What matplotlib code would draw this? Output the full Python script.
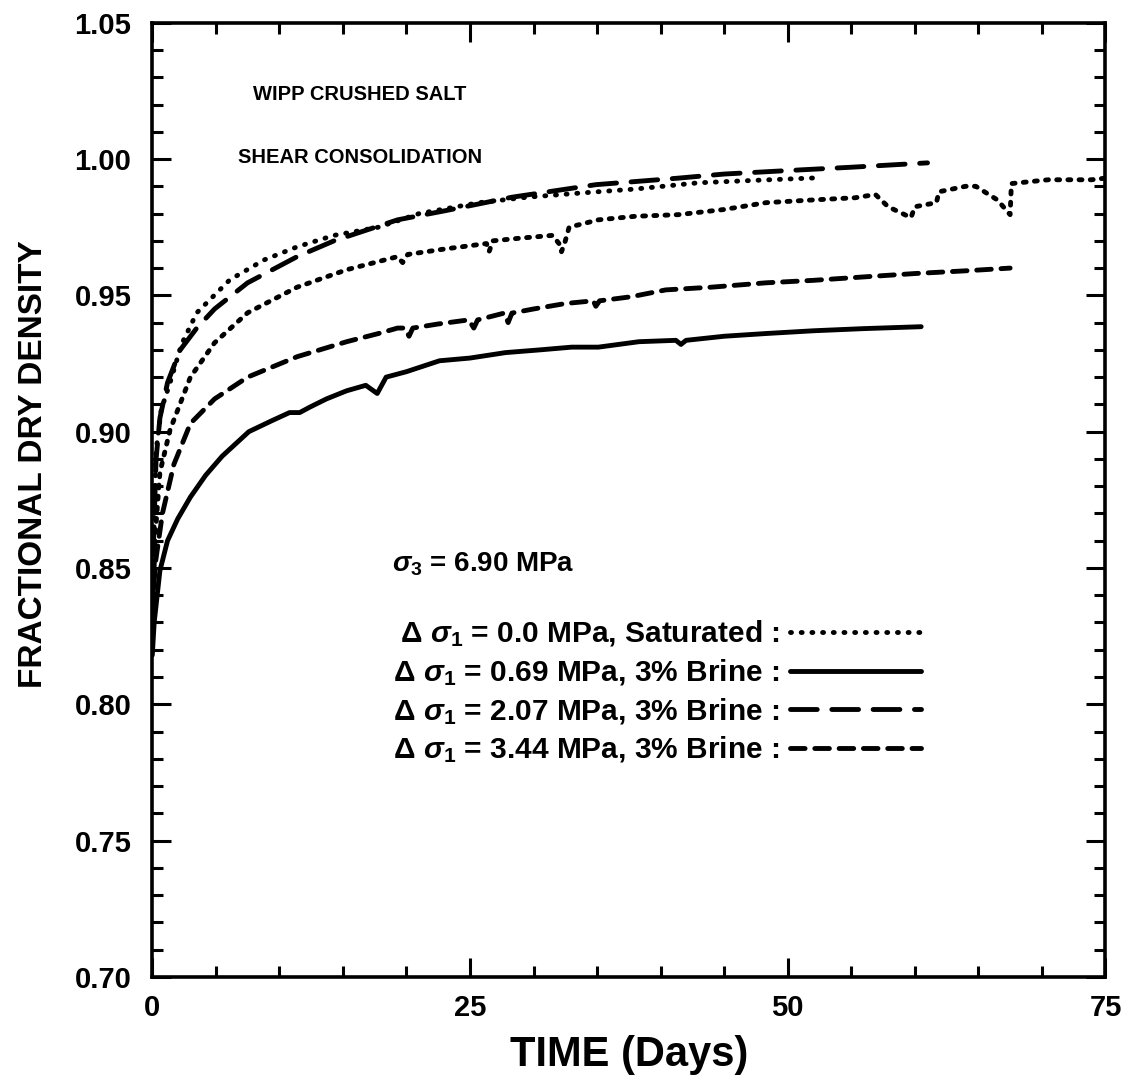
import numpy as np
import matplotlib
matplotlib.use('Agg')
import matplotlib.pyplot as plt
from matplotlib.ticker import MultipleLocator, FormatStrFormatter

plt.rcParams['font.family'] = ['Liberation Sans', 'DejaVu Sans']
plt.rcParams['font.weight'] = 'bold'
plt.rcParams['mathtext.fontset'] = 'custom'
plt.rcParams['mathtext.rm'] = 'Liberation Sans:bold'
plt.rcParams['mathtext.bf'] = 'Liberation Sans:bold'
plt.rcParams['mathtext.it'] = 'Liberation Sans:bold:italic'

# dsigma1 = 0.0 MPa, saturated
sat_days = [0, 0.1, 0.3, 0.7, 1.4, 2.3, 3.5, 6.1, 8.8, 11.4, 14.3, 17.8, 21.0,
            25.7, 29.5, 33.6, 38.0, 43.0, 48.0, 52.3]
sat_dens = [0.825, 0.860, 0.893, 0.908, 0.918, 0.932, 0.9436, 0.9557, 0.963,
            0.9678, 0.972, 0.975, 0.980, 0.984, 0.986, 0.9875, 0.989, 0.9913,
            0.9923, 0.9931]

# second saturated run (no legend entry)
sat2_days = [0, 0.2, 0.6, 1.4, 3.0, 4.9, 7.5, 11.4, 15.3, 19.3, 19.7, 20.1, 23.0,
             26.3, 26.5, 26.8, 29.0, 31.5, 32.0, 32.2, 32.5, 32.8, 35.1, 38.0,
             41.4, 45.0, 48.3, 52.0, 55.3, 56.9, 57.9, 59.7, 60.0, 61.7, 61.9,
             64.0, 64.8, 66.5, 67.5, 67.6, 70.5, 73.9, 75.0]
sat2_dens = [0.822, 0.860, 0.885, 0.9007, 0.920, 0.9326, 0.9436, 0.953, 0.9594,
             0.9642, 0.962, 0.965, 0.967, 0.969, 0.966, 0.970, 0.971, 0.972,
             0.969, 0.966, 0.970, 0.975, 0.9777, 0.979, 0.9796, 0.9815, 0.984,
             0.985, 0.9858, 0.987, 0.9825, 0.9785, 0.9825, 0.984, 0.988, 0.990,
             0.990, 0.985, 0.9796, 0.991, 0.9924, 0.9924, 0.993]

# dsigma1 = 0.69 MPa, 3% brine
b069_days = [0, 0.15, 0.6, 1.2, 2.0, 3.0, 4.2, 5.5, 7.6, 9.4, 10.8, 11.6, 12.4,
             13.7, 15.3, 16.8, 17.7, 18.4, 20.0, 22.6, 25.0, 27.8, 30.5, 33.0,
             35.1, 38.3, 41.2, 41.6, 42.0, 45.0, 48.3, 52.0, 56.0, 60.5]
b069_dens = [0.818, 0.830, 0.849, 0.860, 0.868, 0.876, 0.884, 0.891, 0.900,
             0.904, 0.907, 0.907, 0.909, 0.912, 0.915, 0.917, 0.914, 0.920,
             0.922, 0.926, 0.927, 0.929, 0.930, 0.931, 0.931, 0.933, 0.9335,
             0.932, 0.9335, 0.935, 0.936, 0.937, 0.9378, 0.9385]

# dsigma1 = 2.07 MPa, 3% brine
b207_days = [0, 0.1, 0.3, 0.6, 1.2, 2.2, 3.5, 4.9, 7.5, 11.4, 14.3, 19.3, 23.0,
             28.3, 34.9, 41.4, 45.0, 50.9, 55.0, 61.0]
b207_dens = [0.825, 0.860, 0.890, 0.905, 0.918, 0.930, 0.938, 0.945, 0.9546,
             0.9642, 0.970, 0.9777, 0.981, 0.986, 0.9906, 0.993, 0.9945, 0.996,
             0.997, 0.9986]

# dsigma1 = 3.44 MPa, 3% brine
b344_days = [0, 0.25, 0.8, 1.7, 3.0, 4.9, 7.5, 11.4, 15.3, 17.8, 19.3, 19.9, 20.2,
             20.5, 22.5, 24.9, 25.3, 25.6, 27.7, 28.0, 28.3, 30.0, 32.5, 34.7,
             34.9, 35.2, 37.7, 40.4, 44.0, 48.3, 52.0, 56.1, 60.0, 64.0, 67.5]
b344_dens = [0.835, 0.852, 0.870, 0.888, 0.903, 0.912, 0.920, 0.9275, 0.933,
             0.936, 0.938, 0.938, 0.935, 0.938, 0.9395, 0.941, 0.938, 0.941,
             0.9435, 0.940, 0.9435, 0.945, 0.947, 0.948, 0.946, 0.948, 0.9495,
             0.952, 0.953, 0.9546, 0.9555, 0.9568, 0.958, 0.959, 0.960]

labels = [r'$\Delta\ \sigma_1$ = 0.0 MPa, Saturated :',
          r'$\Delta\ \sigma_1$ = 0.69 MPa, 3% Brine :',
          r'$\Delta\ \sigma_1$ = 2.07 MPa, 3% Brine :',
          r'$\Delta\ \sigma_1$ = 3.44 MPa, 3% Brine :']

fig = plt.figure(figsize=(11.28, 10.83), dpi=100)
ax = fig.add_axes([0.135, 0.098, 0.845, 0.881])

lw = 3.5
kw = dict(color='black', lw=lw, dash_capstyle='round', solid_capstyle='round')
l_sat, = ax.plot(sat_days, sat_dens, ls=(0, (0.2, 2.0)), **kw)
ax.plot(sat2_days, sat2_dens, ls=(0, (0.6, 1.7)), **kw)
l_069, = ax.plot(b069_days, b069_dens, ls='-', **kw)
l_207, = ax.plot(b207_days, b207_dens, ls=(0, (5.5, 3.0)), **kw)
l_344, = ax.plot(b344_days, b344_dens, ls=(0, (3.0, 2.0)), **kw)

ax.set_xlim(0, 75)
ax.set_ylim(0.70, 1.05)
ax.xaxis.set_major_locator(MultipleLocator(25))
ax.xaxis.set_minor_locator(MultipleLocator(5))
ax.yaxis.set_major_locator(MultipleLocator(0.05))
ax.yaxis.set_minor_locator(MultipleLocator(0.01))
ax.yaxis.set_major_formatter(FormatStrFormatter('%.2f'))
ax.tick_params(which='both', direction='in', top=True, right=True, width=2.2,
               labelsize=21)
ax.tick_params(which='major', length=14)
ax.tick_params(which='minor', length=8)
ax.tick_params(axis='y', pad=15)
ax.tick_params(axis='x', pad=12)
for s in ax.spines.values():
    s.set_linewidth(2.6)

ax.set_xlabel('TIME (Days)', fontsize=30, fontweight='bold', labelpad=10)
ax.set_ylabel('FRACTIONAL DRY DENSITY', fontsize=24, fontweight='bold')
ax.yaxis.set_label_coords(-0.108, 0.537)

ax.text(0.218, 0.925, 'WIPP CRUSHED SALT', transform=ax.transAxes,
        ha='center', va='center', fontsize=14.5)
ax.text(0.218, 0.859, 'SHEAR CONSOLIDATION', transform=ax.transAxes,
        ha='center', va='center', fontsize=14.5)
ax.text(0.252, 0.432, r'$\sigma_3$ = 6.90 MPa', transform=ax.transAxes,
        ha='left', va='center', fontsize=20)

ax.legend([l_sat, l_069, l_207, l_344], labels, loc='upper left',
          bbox_to_anchor=(0.240, 0.388), frameon=False, markerfirst=False,
          fontsize=21.5, handlelength=4.4, handletextpad=0.35,
          labelspacing=0.27, borderaxespad=0)

fig.savefig('out.png', dpi=100)
